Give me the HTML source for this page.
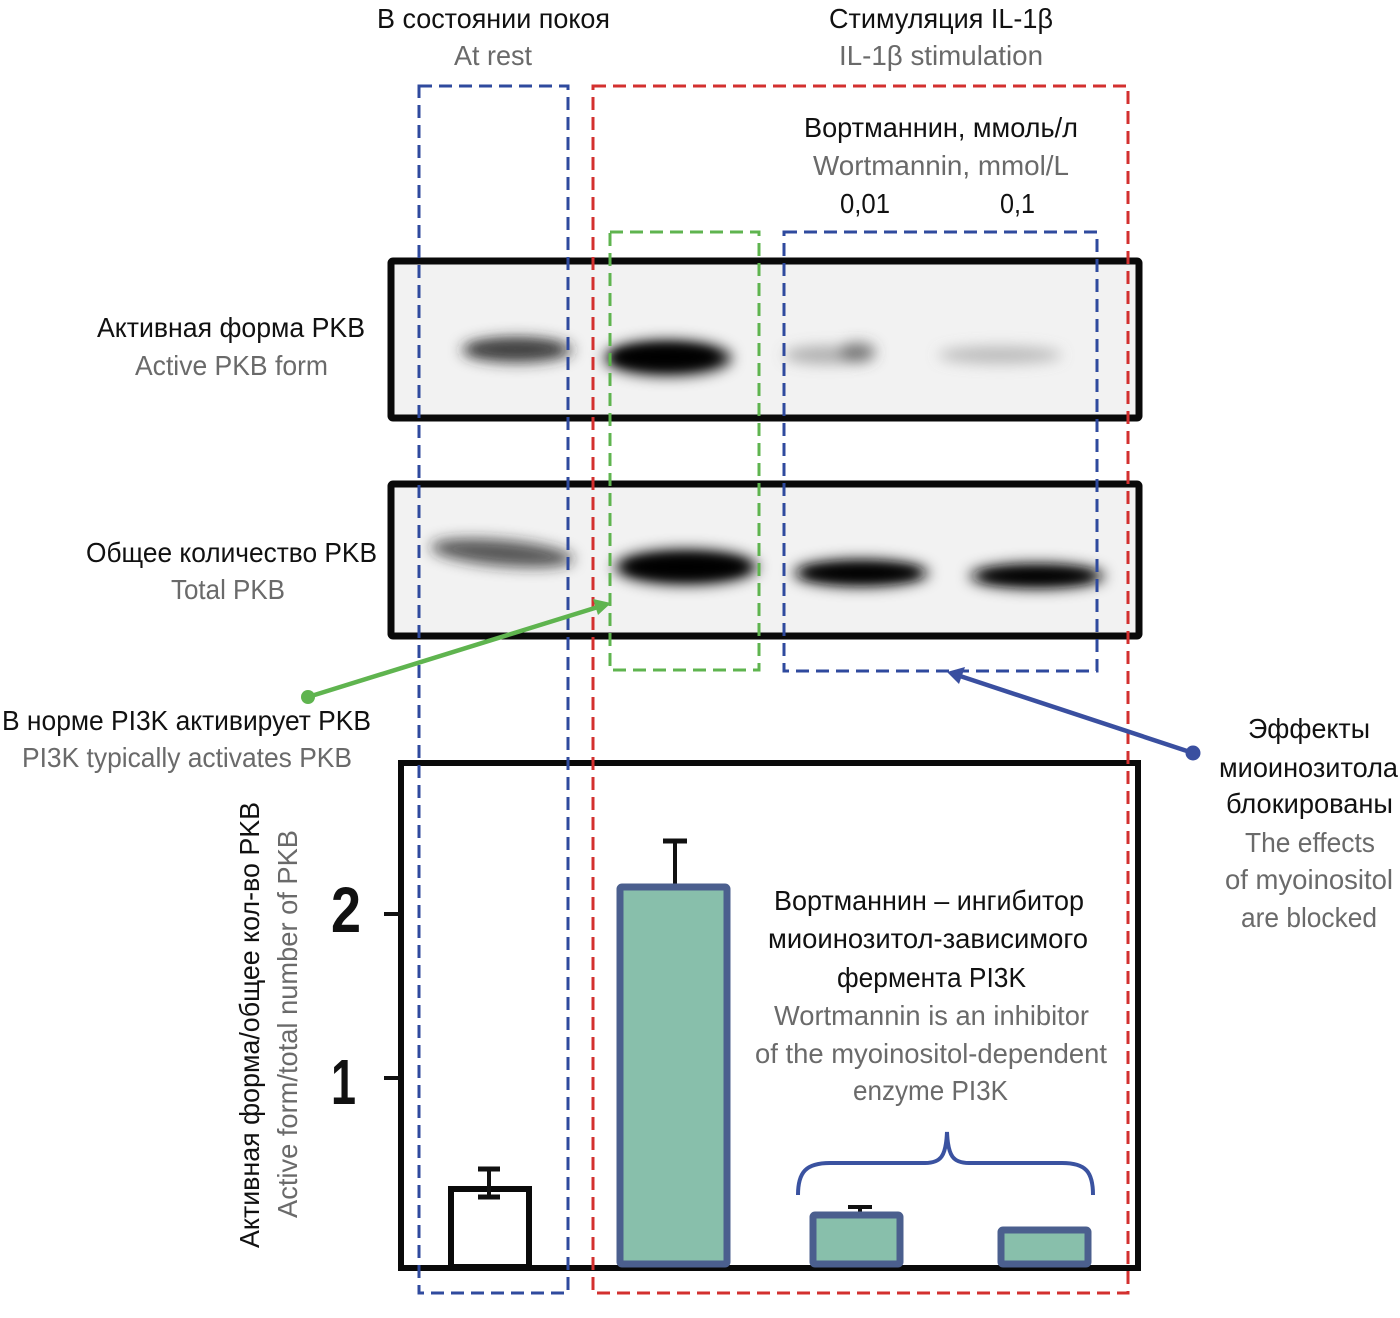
<!DOCTYPE html>
<html>
<head>
<meta charset="utf-8">
<style>
  html,body{margin:0;padding:0;background:#fff;}
  svg{display:block;}
  text{font-family:"Liberation Sans","Noto Sans CJK SC",sans-serif;font-size:28px;}
  .k{fill:#111;}
  .g{fill:#6a6a6a;}
</style>
</head>
<body>
<svg width="1400" height="1318" viewBox="0 0 1400 1318" xmlns="http://www.w3.org/2000/svg">
  <defs>
    <filter id="b4" x="-50%" y="-150%" width="200%" height="400%"><feGaussianBlur stdDeviation="5"/></filter>
    <filter id="b6" x="-50%" y="-150%" width="200%" height="400%"><feGaussianBlur stdDeviation="7"/></filter>
  </defs>

  <!-- Blot 1 -->
  <rect x="391" y="261" width="748" height="157" fill="#f2f2f2"/>
  <g filter="url(#b6)">
    <ellipse cx="517" cy="350" rx="56" ry="13" fill="#2a2a2a" opacity="0.75"/>
    <ellipse cx="668" cy="358" rx="64" ry="18" fill="#000" opacity="0.9"/>
    <ellipse cx="828" cy="355" rx="44" ry="9" fill="#777" opacity="0.55"/>
    <ellipse cx="858" cy="352" rx="18" ry="10" fill="#444" opacity="0.6"/>
    <ellipse cx="1000" cy="355" rx="62" ry="9" fill="#888" opacity="0.5"/>
  </g>
  <g filter="url(#b4)">
    <ellipse cx="515" cy="349" rx="46" ry="8" fill="#333" opacity="0.6"/>
    <ellipse cx="665" cy="357" rx="52" ry="11" fill="#000"/>
  </g>
  <rect x="391" y="261" width="748" height="157" fill="none" stroke="#0a0a0a" stroke-width="7" rx="2"/>

  <!-- Blot 2 -->
  <rect x="391" y="484" width="748" height="152" fill="#f2f2f2"/>
  <g filter="url(#b6)">
    <ellipse cx="502" cy="553" rx="72" ry="13" fill="#222" opacity="0.75" transform="rotate(5 502 553)"/>
    <ellipse cx="686" cy="567" rx="72" ry="18" fill="#000" opacity="0.9"/>
    <ellipse cx="861" cy="573" rx="68" ry="14" fill="#080808" opacity="0.9"/>
    <ellipse cx="1037" cy="576" rx="68" ry="13" fill="#111" opacity="0.9"/>
  </g>
  <g filter="url(#b4)">
    <ellipse cx="686" cy="567" rx="60" ry="11" fill="#000"/>
    <ellipse cx="861" cy="573" rx="58" ry="8" fill="#000"/>
    <ellipse cx="1037" cy="576" rx="56" ry="7" fill="#000"/>
  </g>
  <rect x="391" y="484" width="748" height="152" fill="none" stroke="#0a0a0a" stroke-width="7" rx="2"/>

  <!-- Chart frame -->
  <path d="M401 763 L1138 763 L1138 1268 L401 1268 Z" fill="none" stroke="#0a0a0a" stroke-width="6"/>
  <!-- ticks -->
  <line x1="384" y1="914" x2="400" y2="914" stroke="#111" stroke-width="4"/>
  <line x1="384" y1="1078" x2="400" y2="1078" stroke="#111" stroke-width="4"/>
  <text x="331" y="932" style="font-size:64px;font-weight:bold" class="k" textLength="30" lengthAdjust="spacingAndGlyphs">2</text>
  <text x="331" y="1104" style="font-size:64px;font-weight:bold" class="k" textLength="25" lengthAdjust="spacingAndGlyphs">1</text>

  <!-- bars -->
  <rect x="451" y="1189" width="78" height="78" fill="#fff" stroke="#0a0a0a" stroke-width="6"/>
  <line x1="489" y1="1169" x2="489" y2="1197" stroke="#111" stroke-width="4"/>
  <line x1="478" y1="1169" x2="500" y2="1169" stroke="#111" stroke-width="5"/>
  <line x1="478" y1="1197" x2="500" y2="1197" stroke="#111" stroke-width="5"/>

  <line x1="675" y1="841" x2="675" y2="886" stroke="#111" stroke-width="4"/>
  <line x1="663" y1="841" x2="687" y2="841" stroke="#111" stroke-width="5"/>
  <rect x="620" y="887" width="107" height="377" fill="#88bfab" stroke="#4b5f8e" stroke-width="7" rx="2"/>

  <line x1="860" y1="1207" x2="860" y2="1213" stroke="#111" stroke-width="4"/>
  <line x1="848" y1="1207" x2="872" y2="1207" stroke="#111" stroke-width="4"/>
  <rect x="813" y="1215" width="87" height="49" fill="#88bfab" stroke="#4b5f8e" stroke-width="7" rx="2"/>
  <rect x="1001" y="1230" width="87" height="34" fill="#88bfab" stroke="#4b5f8e" stroke-width="7" rx="2"/>

  <!-- brace -->
  <path d="M798 1195 C798 1172 806 1163 830 1163 L925 1163 C941 1163 946 1156 947 1132 C948 1156 953 1163 969 1163 L1062 1163 C1086 1163 1093 1172 1093 1195" fill="none" stroke="#3a52a0" stroke-width="4"/>

  <!-- dashed boxes -->
  <g fill="none" stroke-width="3" stroke-dasharray="13 7">
    <rect x="419" y="86" width="149" height="1207" stroke="#2f4a9e"/>
    <rect x="593" y="86" width="535" height="1207" stroke="#d3302f"/>
    <rect x="610" y="232" width="149" height="438" stroke="#5fb44f"/>
    <rect x="784" y="232" width="313" height="439" stroke="#2f4a9e"/>
  </g>

  <!-- green arrow -->
  <line x1="308" y1="697" x2="598" y2="607" stroke="#5fb44f" stroke-width="4.5"/>
  <polygon points="611,603 593,599 598,615" fill="#5fb44f"/>
  <circle cx="308" cy="697" r="7" fill="#5fb44f"/>

  <!-- blue arrow -->
  <line x1="1193" y1="753" x2="960" y2="676" stroke="#3a4fa0" stroke-width="4.5"/>
  <polygon points="947,672 965,667 959,684" fill="#3a4fa0"/>
  <circle cx="1193" cy="753" r="7.5" fill="#3a4fa0"/>

  <!-- Top labels -->
  <text x="377" y="28" class="k" textLength="233" lengthAdjust="spacingAndGlyphs">В состоянии покоя</text>
  <text x="454" y="65" class="g" textLength="78" lengthAdjust="spacingAndGlyphs">At rest</text>
  <text x="829" y="28" class="k" textLength="224" lengthAdjust="spacingAndGlyphs">Стимуляция IL-1β</text>
  <text x="839" y="65" class="g" textLength="204" lengthAdjust="spacingAndGlyphs">IL-1β stimulation</text>
  <text x="804" y="137" class="k" textLength="274" lengthAdjust="spacingAndGlyphs">Вортманнин, ммоль/л</text>
  <text x="813" y="175" class="g" textLength="256" lengthAdjust="spacingAndGlyphs">Wortmannin, mmol/L</text>
  <text x="840" y="213" class="k" textLength="50" lengthAdjust="spacingAndGlyphs">0,01</text>
  <text x="1000" y="213" class="k" textLength="35" lengthAdjust="spacingAndGlyphs">0,1</text>

  <!-- Left labels -->
  <text x="97" y="337" class="k" textLength="268" lengthAdjust="spacingAndGlyphs">Активная форма PKB</text>
  <text x="135" y="375" class="g" textLength="193" lengthAdjust="spacingAndGlyphs">Active PKB form</text>
  <text x="86" y="562" class="k" textLength="291" lengthAdjust="spacingAndGlyphs">Общее количество PKB</text>
  <text x="171" y="599" class="g" textLength="114" lengthAdjust="spacingAndGlyphs">Total PKB</text>
  <text x="2" y="730" class="k" textLength="369" lengthAdjust="spacingAndGlyphs">В норме PI3K активирует PKB</text>
  <text x="22" y="767" class="g" textLength="330" lengthAdjust="spacingAndGlyphs">PI3K typically activates PKB</text>

  <!-- Right labels -->
  <text x="1248" y="738" class="k" textLength="122" lengthAdjust="spacingAndGlyphs">Эффекты</text>
  <text x="1219" y="777" class="k" textLength="179" lengthAdjust="spacingAndGlyphs">миоинозитола</text>
  <text x="1226" y="813" class="k" textLength="167" lengthAdjust="spacingAndGlyphs">блокированы</text>
  <text x="1245" y="852" class="g" textLength="130" lengthAdjust="spacingAndGlyphs">The effects</text>
  <text x="1225" y="889" class="g" textLength="168" lengthAdjust="spacingAndGlyphs">of myoinositol</text>
  <text x="1241" y="927" class="g" textLength="136" lengthAdjust="spacingAndGlyphs">are blocked</text>

  <!-- Middle labels -->
  <text x="774" y="910" class="k" textLength="310" lengthAdjust="spacingAndGlyphs">Вортманнин – ингибитор</text>
  <text x="768" y="948" class="k" textLength="320" lengthAdjust="spacingAndGlyphs">миоинозитол-зависимого</text>
  <text x="837" y="987" class="k" textLength="189" lengthAdjust="spacingAndGlyphs">фермента PI3K</text>
  <text x="774" y="1025" class="g" textLength="315" lengthAdjust="spacingAndGlyphs">Wortmannin is an inhibitor</text>
  <text x="755" y="1063" class="g" textLength="352" lengthAdjust="spacingAndGlyphs">of the myoinositol-dependent</text>
  <text x="853" y="1100" class="g" textLength="155" lengthAdjust="spacingAndGlyphs">enzyme PI3K</text>

  <!-- Y axis labels -->
  <text transform="translate(259,1248) rotate(-90)" x="0" y="0" class="k" textLength="446" lengthAdjust="spacingAndGlyphs">Активная форма/общее кол-во PKB</text>
  <text transform="translate(297,1218) rotate(-90)" x="0" y="0" class="g" textLength="388" lengthAdjust="spacingAndGlyphs">Active form/total number of PKB</text>
</svg>
</body>
</html>
